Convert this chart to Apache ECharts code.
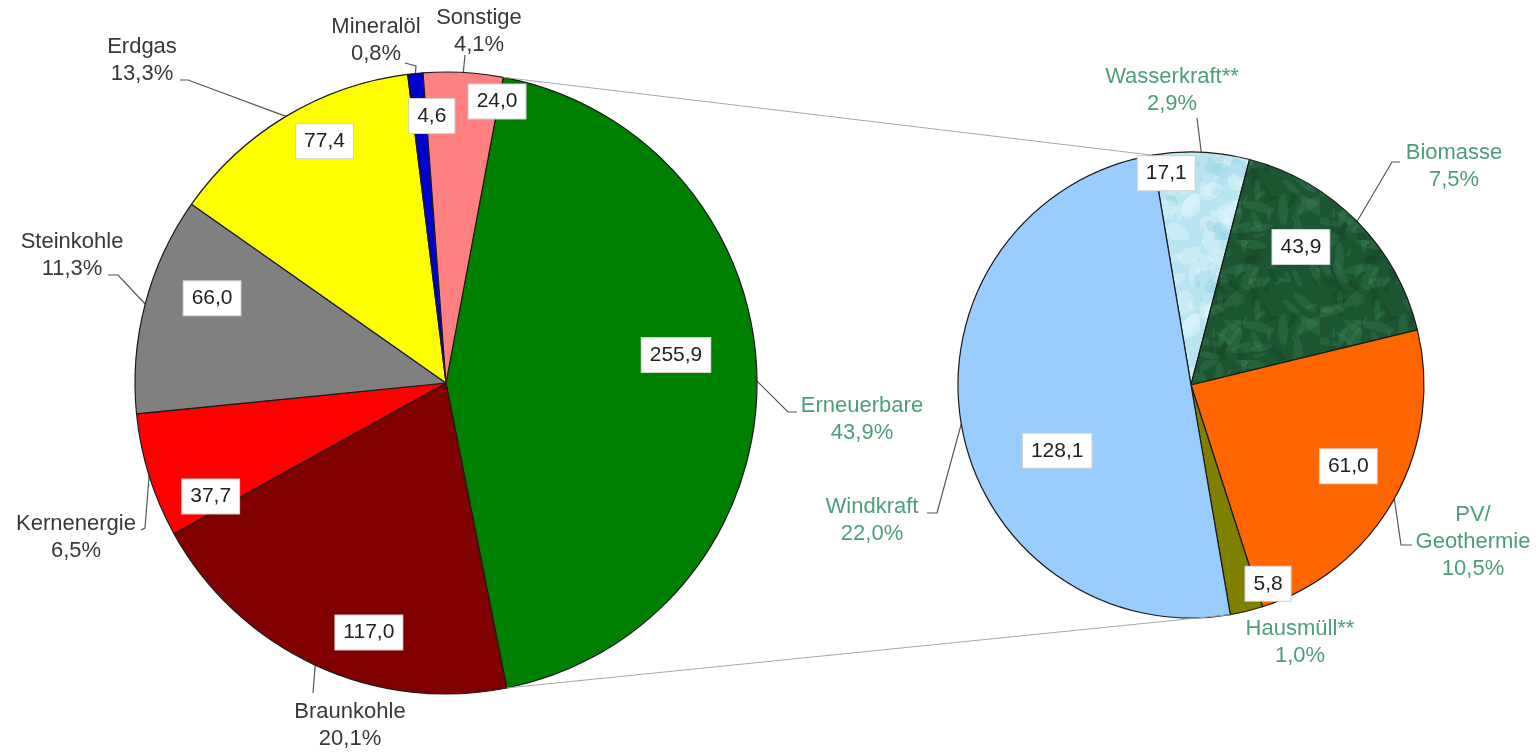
<!DOCTYPE html>
<html><head><meta charset="utf-8">
<script src="https://cdn.jsdelivr.net/npm/echarts@6/dist/echarts.min.js"></script>
<style>html,body{margin:0;padding:0;background:#fff}#c{width:1536px;height:753px}</style>
</head><body><div id="c"></div>
<script>
// ---- data ----
const mainNames = ['Erneuerbare','Braunkohle','Kernenergie','Steinkohle','Erdgas','Mineralöl','Sonstige'];
const mainValues = [255.9, 117.0, 37.7, 66.0, 77.4, 4.6, 24.0];
const subNames = ['Wasserkraft**','Biomasse','PV/\nGeothermie','Hausmüll**','Windkraft'];
const subValues = [17.1, 43.9, 61.0, 5.8, 128.1];

// ---- styles ----
const mainColors = ['#008000','#800000','#ff0000','#808080','#ffff00','#0000cc','#ff8080'];
const GREEN_TXT = '#4c9e76';
const DARK_TXT = '#383838';
const FONT = 'Liberation Sans, Arial, sans-serif';

function makePattern(base, light, dark, kind){
  const c = document.createElement('canvas');
  c.width = 120; c.height = 120;
  const g = c.getContext('2d');
  g.fillStyle = base; g.fillRect(0,0,120,120);
  for (let i = 0; i < 90; i++){
    const x = (Math.sin(i*12.9898)*43758.5453 % 1 + 1) % 1 * 120;
    const y = (Math.sin(i*78.233)*12345.678 % 1 + 1) % 1 * 120;
    const s = 2 + ((i*7)%9);
    g.globalAlpha = kind === 'water' ? 0.35 : 0.25;
    g.fillStyle = (i % 3 === 0) ? dark : light;
    g.beginPath();
    if (kind === 'water') g.ellipse(x, y, s*0.9, s*1.4, (i%5)*0.6, 0, Math.PI*2);
    else g.ellipse(x, y, s*0.5, s*1.6, (i%7)*0.9, 0, Math.PI*2);
    g.fill();
  }
  return {image: c, repeat: 'repeat'};
}
const subColors = [
  makePattern('#b9e5f0', '#e6f7fb', '#8fcfe0', 'water'),
  makePattern('#1c5532', '#3f8f5f', '#0e3a20', 'bio'),
  '#ff6600', '#808000', '#99ccff'
];

// ---- layout ----
const L = {cx: 446, cy: 383, r: 311, start: 79.4};
const R = {cx: 1191, cy: 385, r: 233, start: 99.5};
// value-box placement relative to each slice: radius fraction, angular shift (deg, clockwise)
const mainBoxFrac = [0.745, 0.84, 0.84, 0.80, 0.87, 0.86, 0.92];
const mainBoxShift = [-6.6, -7.7, -8.4, 5.2, 4.3, 2.6, 7.1];
const subBoxFrac = [0.915, 0.757, 0.76, 0.915, 0.64];
const subBoxShift = [-9.2, -6.9, -1.9, -7.4, -16.6];
// outside name labels: block centre, leader-line elbow and end
const mainLabelPos = [
  {c:[862,419], e:[788,412], t:[797,412]},
  {c:[350,725], e:[313,693], t:[313,693]},
  {c:[76,537],  e:[145,528], t:[141,530]},
  {c:[72,255],  e:[118,275], t:[108,275]},
  {c:[142,60],  e:[188,80],  t:[180,80]},
  {c:[376,40],  e:[416,66],  t:[405,63]},
  {c:[479,31],  e:[465,55],  t:[465,55]}
];
const subLabelPos = [
  {c:[1172,90],  e:[1197,118], t:[1197,118]},
  {c:[1454,166], e:[1392,162], t:[1400,162]},
  {c:[1473,542], e:[1401,545], t:[1412,545]},
  {c:[1300,642], e:null, t:null},
  {c:[872,520],  e:[937,513], t:[927,513]}
];

const mainTotal = mainValues.reduce((a,b)=>a+b,0);
const subTotal = subValues.reduce((a,b)=>a+b,0);
const fmtNum = v => v.toFixed(1).replace('.', ',');
const fmtPct = v => (v / mainTotal * 100).toFixed(1).replace('.', ',') + '%';

// mid angle (ECharts math degrees) of slice i
function midAngle(P, vals, i){
  const tot = vals.reduce((a,b)=>a+b,0);
  let acc = 0; for (let k = 0; k < i; k++) acc += vals[k];
  return P.start - 360*(acc + vals[i]/2)/tot;
}
function pt(P, deg, frac){ const a = deg*Math.PI/180; const r = P.r*(frac==null?1:frac); return [P.cx + r*Math.cos(a), P.cy - r*Math.sin(a)]; }

const mainData = mainNames.map((n,i)=>({name:n, value:mainValues[i], itemStyle:{color:mainColors[i]},
  label:{color: i===0 ? GREEN_TXT : DARK_TXT}}));
const subData = subNames.map((n,i)=>({name:n, value:subValues[i], itemStyle:{color:subColors[i]}}));

const outerLabel = {
  show: true, position: 'outside', fontFamily: FONT,
  fontSize: 22, lineHeight: 27, align: 'center',
  formatter: p => p.name + '\n' + fmtPct(p.value)
};
const boxLabel = {
  show: true, position: 'outside', fontFamily: FONT,
  fontSize: 21, color: '#222', backgroundColor: '#fff', borderColor: '#d0d0d0', borderWidth: 1,
  padding: [7, 8, 6, 8],
  formatter: p => fmtNum(p.value)
};
const transparentData = arr => arr.map((v,i)=>({name:'v'+i, value:v, itemStyle:{color:'rgba(0,0,0,0)', borderWidth:0}}));

function outerLayout(table){
  return function(params){
    const s = table[params.dataIndex];
    const p0 = params.labelLinePoints ? params.labelLinePoints[0] : s.c;
    const pts = s.e ? [p0, s.e, s.t] : [p0, p0, p0];
    return {x: s.c[0], y: s.c[1], align:'center', verticalAlign:'middle', labelLinePoints: pts};
  };
}
function boxLayout(P, vals, frac, shift){
  return function(params){
    const i = params.dataIndex;
    const p = pt(P, midAngle(P, vals, i) - shift[i], frac[i]);
    return {x: p[0], y: p[1], align:'center', verticalAlign:'middle'};
  };
}

const chart = echarts.init(document.getElementById('c'), null, {renderer:'canvas'});

const eEnd = L.start - 360*mainValues[0]/mainTotal;
const windStart = R.start - 360*(subTotal - subValues[4])/subTotal;
const pA = pt(L, L.start), pB = pt(R, R.start), pC = pt(L, eEnd), pD = pt(R, windStart);

chart.setOption({
  animation: false,
  backgroundColor: '#fff',
  graphic: [
    {type:'line', z: 100, silent:true, shape:{x1:pA[0], y1:pA[1], x2:pB[0], y2:pB[1]}, style:{stroke:'#a8a8a8', lineWidth:1}},
    {type:'line', z: 100, silent:true, shape:{x1:pC[0], y1:pC[1], x2:pD[0], y2:pD[1]}, style:{stroke:'#a8a8a8', lineWidth:1}}
  ],
  series: [
    { type:'pie', center:[L.cx, L.cy], radius: L.r, startAngle: L.start, clockwise: true, data: mainData,
      itemStyle:{borderColor:'#1a1a1a', borderWidth:1.2},
      label: Object.assign({}, outerLabel),
      labelLine:{show:true, length:10, length2:10, lineStyle:{color:'#555', width:1.2}},
      labelLayout: outerLayout(mainLabelPos),
      avoidLabelOverlap:false, emphasis:{disabled:true}, silent:true },
    { type:'pie', center:[L.cx, L.cy], radius: L.r, startAngle: L.start, clockwise:true,
      data: transparentData(mainValues), label: boxLabel, labelLine:{show:false},
      labelLayout: boxLayout(L, mainValues, mainBoxFrac, mainBoxShift),
      emphasis:{disabled:true}, silent:true, avoidLabelOverlap:false },
    { type:'pie', center:[R.cx, R.cy], radius: R.r, startAngle: R.start, clockwise: true, data: subData,
      itemStyle:{borderColor:'#1a1a1a', borderWidth:1.2},
      label: Object.assign({}, outerLabel, {color: GREEN_TXT}),
      labelLine:{show:true, length:10, length2:10, lineStyle:{color:'#555', width:1.2}},
      labelLayout: outerLayout(subLabelPos),
      avoidLabelOverlap:false, emphasis:{disabled:true}, silent:true },
    { type:'pie', center:[R.cx, R.cy], radius: R.r, startAngle: R.start, clockwise:true,
      data: transparentData(subValues), label: boxLabel, labelLine:{show:false},
      labelLayout: boxLayout(R, subValues, subBoxFrac, subBoxShift),
      emphasis:{disabled:true}, silent:true, avoidLabelOverlap:false }
  ]
});
</script></body></html>
